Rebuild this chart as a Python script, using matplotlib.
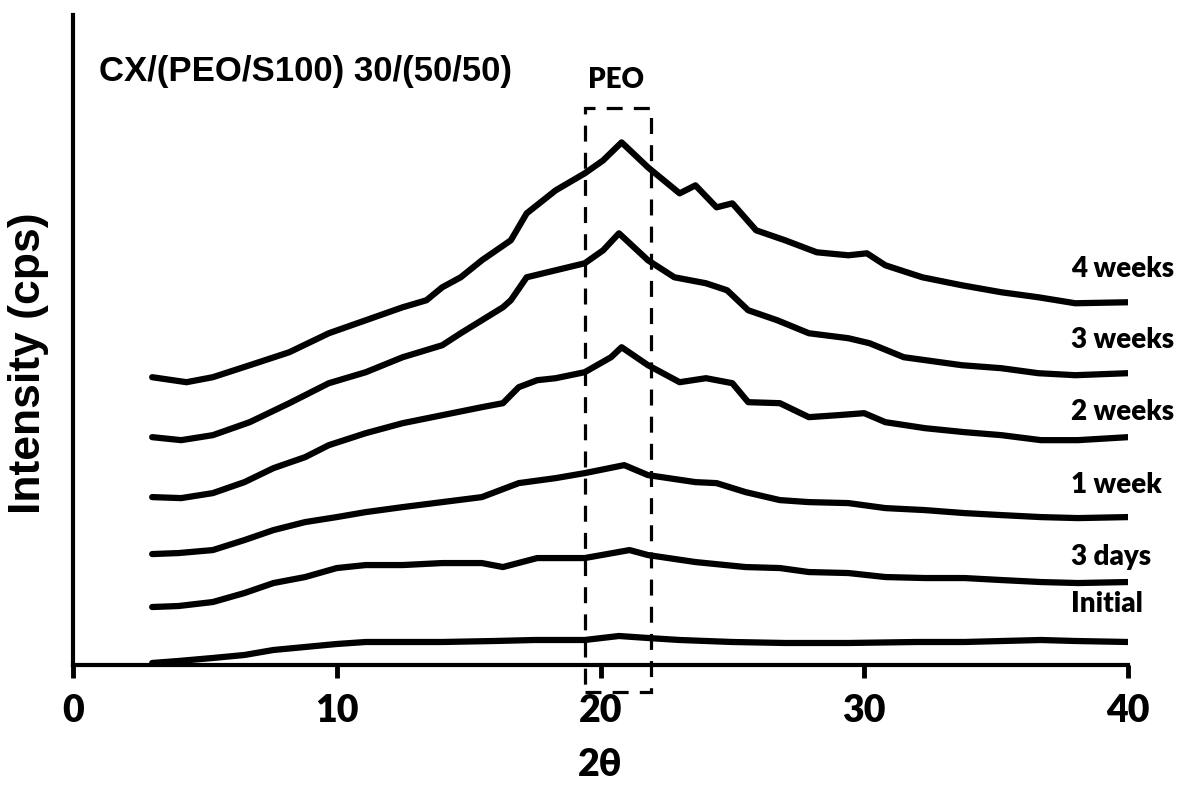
import matplotlib
matplotlib.use("Agg")
import matplotlib.pyplot as plt
from matplotlib.patches import Rectangle

# XRD patterns (intensity in arbitrary stacked units)
initial_x = [3, 4, 5.3, 6.5, 7.6, 8.8, 10, 11.1, 12.5, 14, 16, 17.5, 19.4, 20.7, 21.8, 23, 25, 27, 29.4, 32, 33.8, 36.7, 38, 40]
initial_y = [2, 4, 7, 10, 15, 18, 21, 23, 23, 23, 24, 25, 25, 29, 27, 25, 23, 22, 22, 23, 23, 25, 24, 23]

days3_x = [3, 4, 5.3, 6.5, 7.6, 8.8, 10, 11.1, 12.5, 14, 15.5, 16.3, 17.6, 19.4, 21.1, 21.8, 23.6, 25.5, 26.8, 27.9, 29.4, 30.8, 32.3, 33.8, 35.2, 36.7, 38.1, 40]
days3_y = [58, 59, 63, 72, 82, 88, 97, 100, 100, 102, 102, 98, 107, 107, 115, 110, 103, 98, 97, 93, 92, 88, 87, 87, 85, 83, 82, 83]

week1_x = [3, 4, 5.3, 6.5, 7.6, 8.8, 10, 11.1, 12.5, 14, 15.5, 16.9, 18.3, 19.4, 20.9, 21.8, 23.6, 24.4, 25.5, 26.8, 27.9, 29.4, 30.8, 32.3, 33.8, 35.2, 36.7, 38.1, 40]
week1_y = [111, 112, 115, 125, 135, 143, 148, 153, 158, 163, 168, 182, 187, 192, 200, 190, 183, 182, 173, 165, 163, 162, 157, 155, 152, 150, 148, 147, 148]

week2_x = [3, 4.1, 5.3, 6.5, 7.6, 8.8, 9.7, 11.1, 12.5, 14, 15.5, 16.3, 16.9, 17.6, 18.3, 19.4, 20.4, 20.8, 21.8, 23, 24, 25, 25.6, 26.8, 27.9, 29, 30, 30.8, 32.3, 33.8, 35.2, 36.7, 38.1, 40]
week2_y = [168, 167, 172, 183, 197, 208, 220, 232, 242, 250, 258, 262, 278, 285, 287, 293, 308, 318, 300, 283, 287, 282, 263, 262, 248, 250, 252, 243, 237, 233, 230, 225, 225, 228]

week3_x = [3, 4.1, 5.3, 6.7, 8.2, 9.7, 11.1, 12.5, 14, 14.7, 15.5, 16.3, 16.6, 17.2, 18.3, 19.4, 20.1, 20.7, 21.8, 22.8, 24, 24.8, 25.6, 26.7, 27.9, 29.4, 30.2, 31.5, 33.7, 35.2, 36.6, 38, 40]
week3_y = [228, 225, 230, 243, 262, 282, 293, 308, 320, 332, 345, 358, 365, 388, 395, 402, 415, 432, 405, 388, 382, 375, 355, 345, 332, 327, 322, 308, 300, 297, 292, 290, 292]

week4_x = [3, 4.3, 5.3, 6.7, 8.2, 9.7, 11.1, 12.5, 13.4, 14, 14.7, 15.5, 16.6, 17.2, 18.3, 19.4, 20.1, 20.8, 21.8, 23, 23.6, 24.4, 25, 25.9, 27, 28.2, 29.4, 30.1, 30.8, 32.2, 33.7, 35.2, 36.6, 38, 40]
week4_y = [288, 283, 288, 300, 313, 332, 345, 358, 365, 378, 388, 405, 425, 452, 475, 492, 505, 523, 498, 472, 480, 458, 462, 435, 425, 413, 410, 412, 400, 388, 380, 373, 368, 362, 363]

labels = ["Initial", "3 days", "1 week", "2 weeks", "3 weeks", "4 weeks"]
label_y = [53, 100, 172, 245, 317, 388]
xtick_vals = [0, 10, 20, 30, 40]

curves = [(initial_x, initial_y), (days3_x, days3_y), (week1_x, week1_y),
          (week2_x, week2_y), (week3_x, week3_y), (week4_x, week4_y)]

arial = ["Liberation Sans", "DejaVu Sans"]
calibri = ["Lato", "DejaVu Sans"]

fig = plt.figure(figsize=(11.82, 7.94), dpi=100)
ax = fig.add_axes([0.0618, 0.1625, 0.8925, 0.818])

for xs, ys in curves:
    ax.plot(xs, ys, color="black", lw=4.5, solid_joinstyle="round", solid_capstyle="round")

for name, yy in zip(labels, label_y):
    ax.text(37.85, yy, name, fontsize=20, fontweight="heavy", family=calibri,
            va="baseline", ha="left", clip_on=False)

# dashed box marking the PEO reflection
box = Rectangle((19.4, -27), 2.5, 584, fill=False, ec="black", lw=2.3,
                ls=(0, (5, 3.5)), clip_on=False)
ax.add_patch(box)
ax.text(20.6, 577, "PEO", fontsize=20, fontweight="heavy", family=calibri,
        ha="center", va="baseline")

ax.text(1.0, 584, "CX/(PEO/S100) 30/(50/50)", fontsize=25, fontweight="bold",
        family=arial, ha="left", va="baseline")

ax.set_xlim(0, 40)
ax.set_ylim(0, 650)
ax.set_xticks(xtick_vals)
ax.set_xticklabels([str(v) for v in xtick_vals], fontsize=27, fontweight="heavy", family=calibri)
ax.set_yticks([])
ax.tick_params(axis="x", direction="out", length=9, width=3.5, pad=12)

for side in ["top", "right"]:
    ax.spines[side].set_visible(False)
for side in ["left", "bottom"]:
    ax.spines[side].set_linewidth(3)

ax.set_xlabel("2θ", fontsize=27, fontweight="heavy", family=calibri, labelpad=14)
ax.set_ylabel("Intensity (cps)", fontsize=32, fontweight="bold", family=arial)
ax.yaxis.set_label_coords(-0.023, 0.465)

fig.savefig("out.png", dpi=100)
